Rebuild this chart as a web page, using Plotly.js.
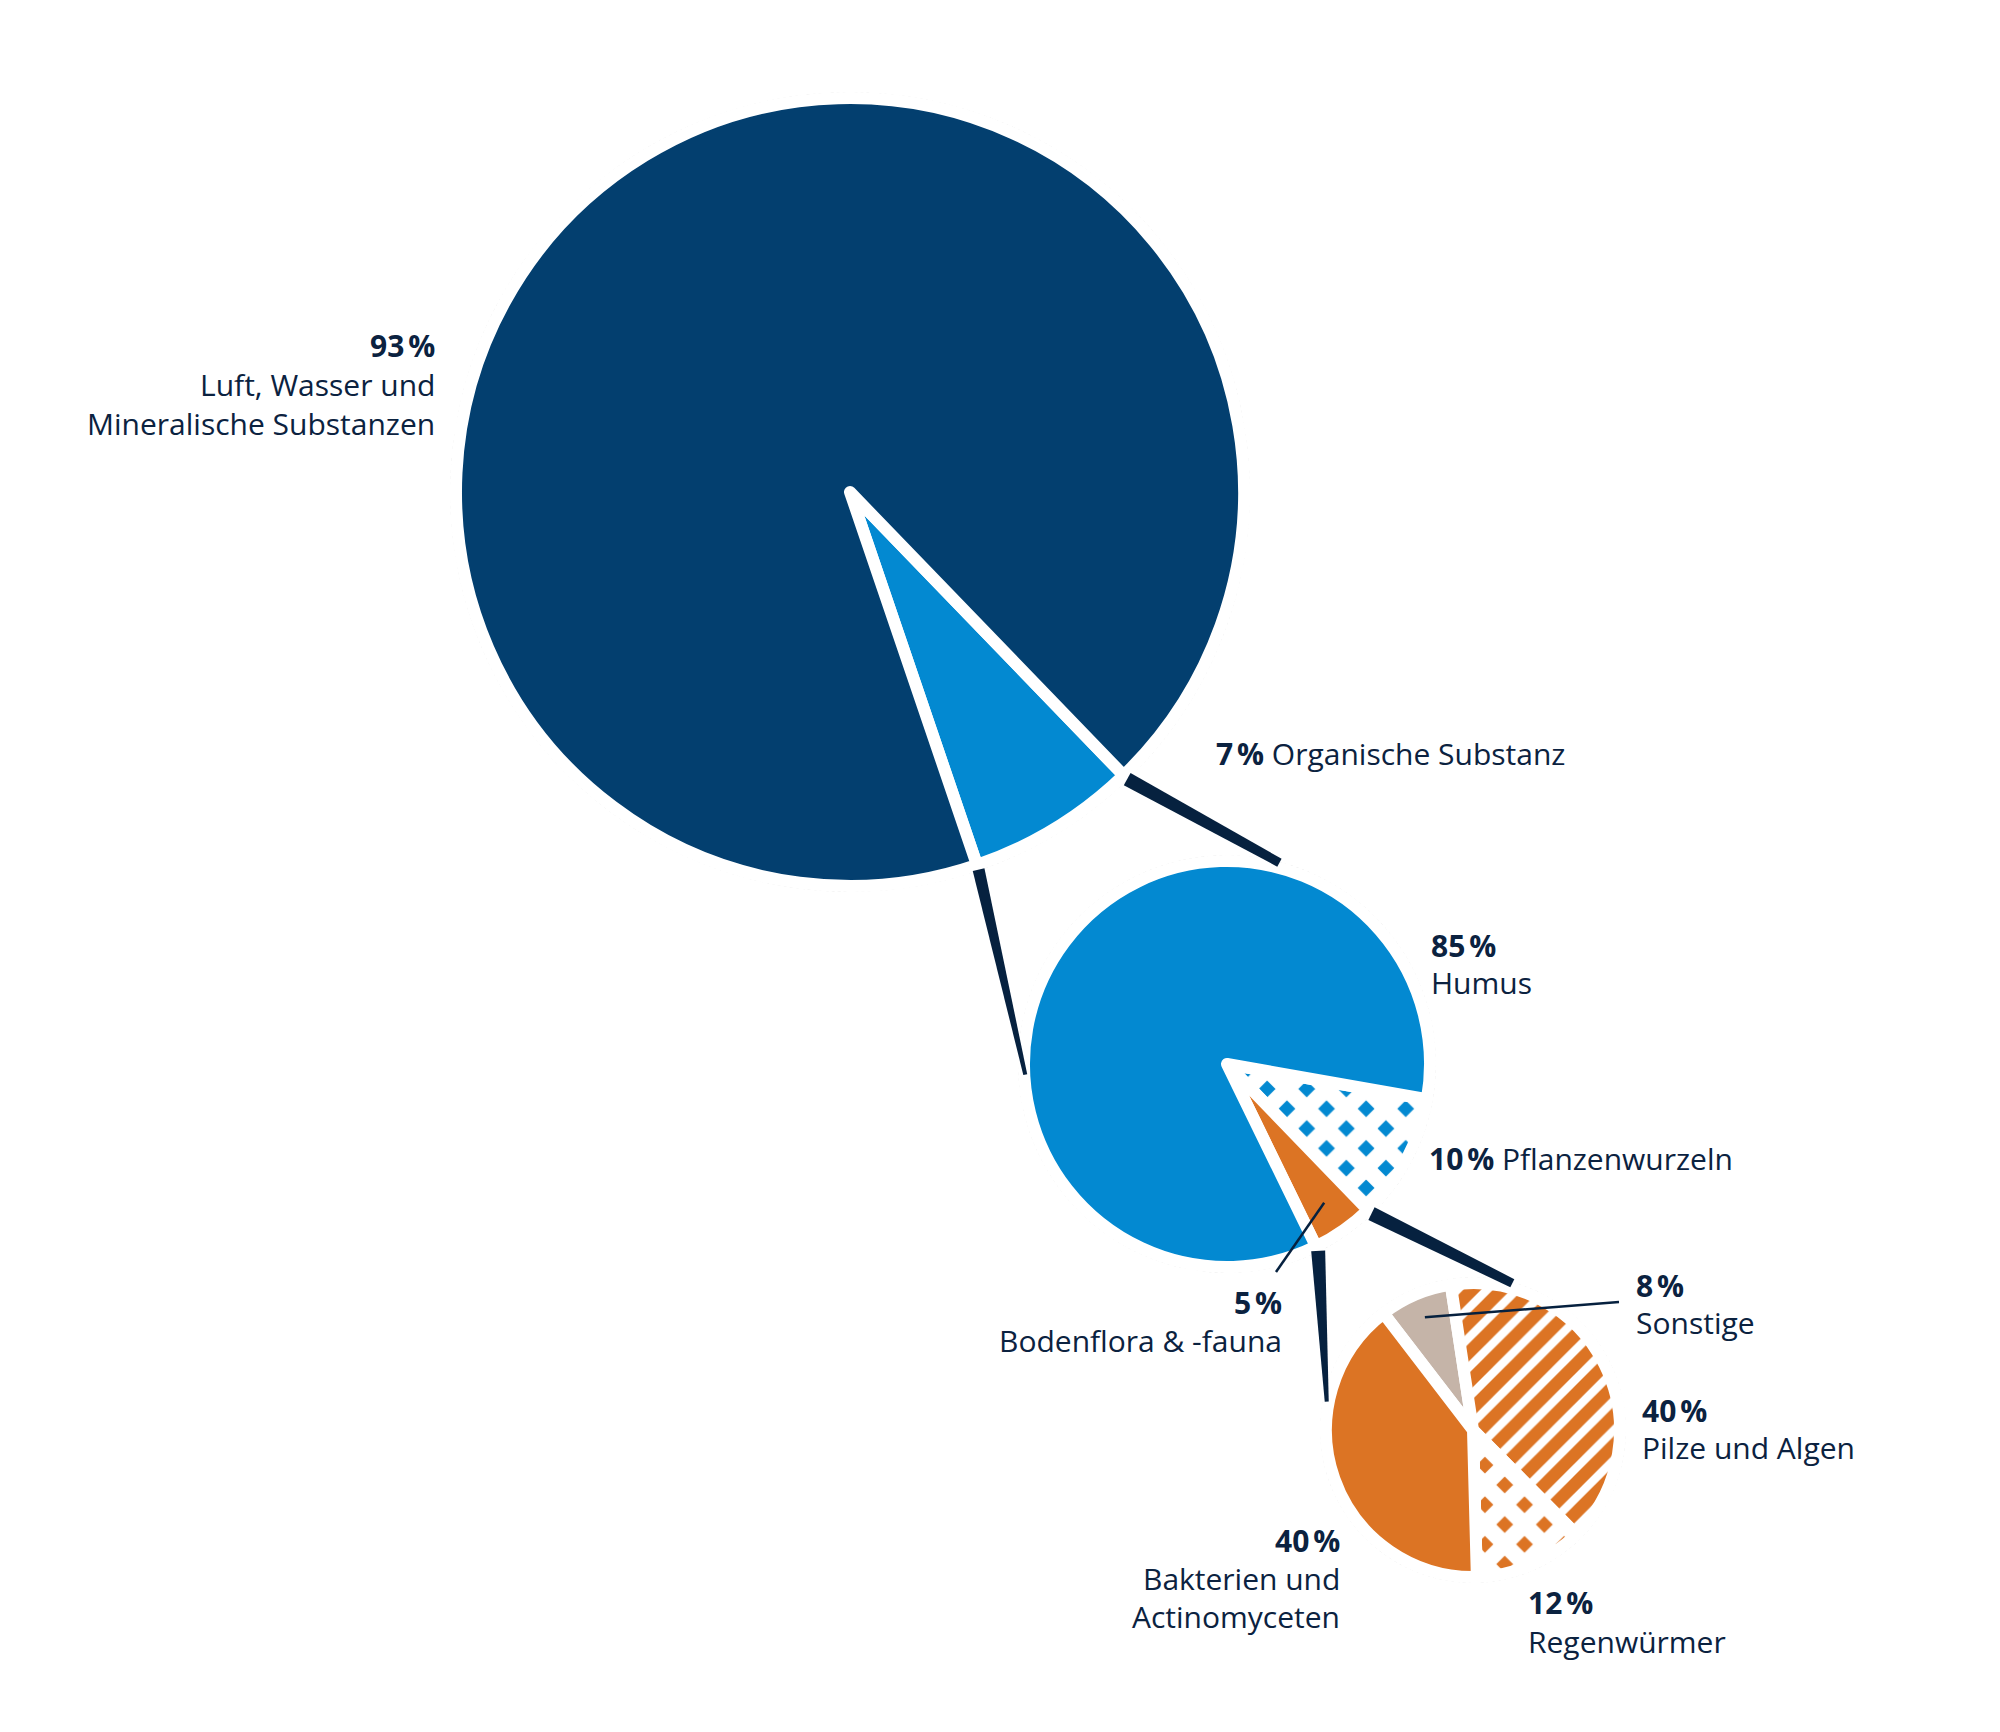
<!DOCTYPE html>
<html><head><meta charset="utf-8">
<script src="https://cdn.plot.ly/plotly-3.0.1.min.js"></script>
<style>html,body{margin:0;padding:0;background:#fff}</style>
</head><body><div id="chart" style="width:2000px;height:1732px"></div>
<script>
// ---------------- DATA ----------------
const soilLabels = ['Organische Substanz', 'Luft, Wasser und<br>Mineralische Substanzen'];
const soilValues = [7, 93];
const organicLabels = ['Pflanzenwurzeln', 'Bodenflora & -fauna', 'Humus'];
const organicValues = [10, 5, 85];
const lifeLabels = ['Sonstige', 'Pilze und Algen', 'Regenwürmer', 'Bakterien und<br>Actinomyceten'];
const lifeValues = [8, 40, 12, 40];

// ---------------- STYLE / GEOMETRY ----------------
const W = 2000, H = 1732;
const STROKE = 12, RING_GAP = 11;
const NAVY = '#033F6F', BLUE = '#0389D1', ORANGE = '#DC7424', BEIGE = '#C5B4A8';
const INK = '#0B2240', LINK = '#06213F', WHITE = '#FFFFFF';
const FONT = 'Open Sans, Noto Sans, sans-serif';
const FS = 30, LINE_GAP = 38;

const geo = {
  soil:    {cx: 850,  cy: 492,  r: 388, rotation: 136,   values: soilValues},
  organic: {cx: 1227, cy: 1064, r: 197, rotation: 100,   values: organicValues},
  life:    {cx: 1473, cy: 1430, r: 141, rotation: 322.5, values: lifeValues}
};

const px = x => x / W;
const py = y => 1 - y / H;

function pieTrace(labels, values, g, colors, pattern) {
  const R = g.r + STROKE / 2;
  const t = {
    type: 'pie', labels: labels.map(l => l.replace('<br>', ' ')), values: values,
    sort: false, direction: 'clockwise', rotation: g.rotation,
    textinfo: 'none', hoverinfo: 'label+percent', showlegend: false,
    domain: {x: [px(g.cx - R), px(g.cx + R)], y: [py(g.cy + R), py(g.cy - R)]},
    marker: {colors: colors, line: {color: WHITE, width: STROKE}}
  };
  if (pattern) t.marker.pattern = pattern;
  return t;
}

const traces = [
  pieTrace(soilLabels, soilValues, geo.soil, [BLUE, NAVY]),
  pieTrace(organicLabels, organicValues, geo.organic, [BLUE, ORANGE, BLUE], {
    shape: ['x', '.', '.'],
    bgcolor: [BLUE, ORANGE, BLUE],
    fgcolor: [WHITE, ORANGE, BLUE],
    size: [28, 10, 10],
    solidity: [0.82, 1, 1],
    fillmode: 'replace'
  }),
  pieTrace(lifeLabels, lifeValues, geo.life, [BEIGE, ORANGE, ORANGE, ORANGE], {
    shape: ['.', '/', 'x', '.'],
    bgcolor: [BEIGE, WHITE, ORANGE, ORANGE],
    fgcolor: [BEIGE, ORANGE, WHITE, ORANGE],
    size: [10, 21, 28, 10],
    solidity: [1, 0.6, 0.82, 1],
    fillmode: 'replace'
  })
];

// slice edge angles computed from the data (degrees clockwise from 12 o'clock)
function sliceAngles(g, i) {
  const tot = g.values.reduce((a, b) => a + b, 0);
  let a0 = g.rotation;
  for (let k = 0; k < i; k++) a0 += 360 * g.values[k] / tot;
  const a1 = a0 + 360 * g.values[i] / tot;
  return {start: a0, end: a1, mid: (a0 + a1) / 2};
}
function polar(g, ang, rr) {
  const a = ang * Math.PI / 180;
  return [g.cx + rr * Math.sin(a), g.cy - rr * Math.cos(a)];
}

const shapes = [];
// faint dotted rings around each pie
Object.values(geo).forEach(g => {
  const rr = g.r + RING_GAP;
  shapes.push({type: 'circle', xref: 'paper', yref: 'paper',
    x0: px(g.cx - rr), x1: px(g.cx + rr), y0: py(g.cy + rr), y1: py(g.cy - rr),
    line: {color: '#D9D9D9', width: 1.5, dash: 'dot'}, layer: 'below'});
});

// tapered connector bands
const connectors = [
  {from: 'soil', slice: 0, edge: 'start', to: 'organic', toAngle: 14.6, toGap: 11, w0: 14, w1: 9},
  {from: 'soil', slice: 0, edge: 'end', to: 'organic', toAngle: 267, toGap: 5, w0: 12, w1: 4},
  {from: 'organic', slice: 1, edge: 'start', to: 'life', toAngle: 15, toGap: 11, w0: 14, w1: 9},
  {from: 'organic', slice: 1, edge: 'end', to: 'life', toAngle: 281, toGap: 8, w0: 14, w1: 4}
];
connectors.forEach(c => {
  const gf = geo[c.from], gt = geo[c.to];
  const ang = sliceAngles(gf, c.slice)[c.edge];
  const p0 = polar(gf, ang, gf.r + RING_GAP);
  const p1 = polar(gt, c.toAngle, gt.r + c.toGap);
  const dx = p1[0] - p0[0], dy = p1[1] - p0[1], L = Math.hypot(dx, dy);
  const nx = -dy / L, ny = dx / L;
  const pts = [
    [p0[0] + nx * c.w0 / 2, p0[1] + ny * c.w0 / 2],
    [p1[0] + nx * c.w1 / 2, p1[1] + ny * c.w1 / 2],
    [p1[0] - nx * c.w1 / 2, p1[1] - ny * c.w1 / 2],
    [p0[0] - nx * c.w0 / 2, p0[1] - ny * c.w0 / 2]
  ];
  const path = 'M' + pts.map(p => px(p[0]).toFixed(5) + ',' + py(p[1]).toFixed(5)).join('L') + 'Z';
  shapes.push({type: 'path', xref: 'paper', yref: 'paper', path: path,
    fillcolor: LINK, line: {width: 0}, layer: 'above'});
});

// label placement
const labelPos = [
  {pie: 'soil', i: 1, x: 437, anchor: 'right', yPct: 345, yName: 385},
  {pie: 'soil', i: 0, x: 1214, anchor: 'left', inline: true, y: 753},
  {pie: 'organic', i: 2, x: 1429, anchor: 'left', yPct: 945, yName: 982},
  {pie: 'organic', i: 0, x: 1427, anchor: 'left', inline: true, y: 1158},
  {pie: 'organic', i: 1, x: 1284, anchor: 'right', yPct: 1302, yName: 1340,
    leader: {r: 0.86, to: [1276, 1272]}},
  {pie: 'life', i: 0, x: 1634, anchor: 'left', yPct: 1285, yName: 1322,
    leader: {r: 0.87, to: [1619, 1302]}},
  {pie: 'life', i: 1, x: 1640, anchor: 'left', yPct: 1410, yName: 1447},
  {pie: 'life', i: 2, x: 1526, anchor: 'left', yPct: 1602, yName: 1641},
  {pie: 'life', i: 3, x: 1342, anchor: 'right', yPct: 1540, yName: 1578}
];
const labelSets = {soil: soilLabels, organic: organicLabels, life: lifeLabels};

const annotations = [];
function addText(text, x, y, anchor) {
  annotations.push({xref: 'paper', yref: 'paper', x: px(x), y: py(y), text: text,
    showarrow: false, xanchor: anchor, yanchor: 'middle', align: anchor,
    font: {family: FONT, size: FS, color: INK}});
}
labelPos.forEach(lp => {
  const g = geo[lp.pie];
  const pct = '<b>' + g.values[lp.i] + '\u202F%</b>';
  const name = labelSets[lp.pie][lp.i];
  if (lp.inline) {
    addText(pct + ' ' + name, lp.x, lp.y, lp.anchor);
  } else {
    addText(pct, lp.x, lp.yPct, lp.anchor);
    name.split('<br>').forEach((ln, k) => addText(ln, lp.x, lp.yName + k * LINE_GAP, lp.anchor));
  }
  if (lp.leader) {
    const s = polar(g, sliceAngles(g, lp.i).mid, g.r * lp.leader.r);
    shapes.push({type: 'line', xref: 'paper', yref: 'paper',
      x0: px(s[0]), y0: py(s[1]), x1: px(lp.leader.to[0]), y1: py(lp.leader.to[1]),
      line: {color: LINK, width: 2.5}, layer: 'above'});
  }
});

const layout = {
  width: W, height: H, autosize: false,
  margin: {l: 0, r: 0, t: 0, b: 0, pad: 0},
  paper_bgcolor: WHITE, plot_bgcolor: WHITE,
  showlegend: false, shapes: shapes, annotations: annotations
};
Plotly.newPlot('chart', traces, layout, {displayModeBar: false, staticPlot: true});
</script>
</body></html>
